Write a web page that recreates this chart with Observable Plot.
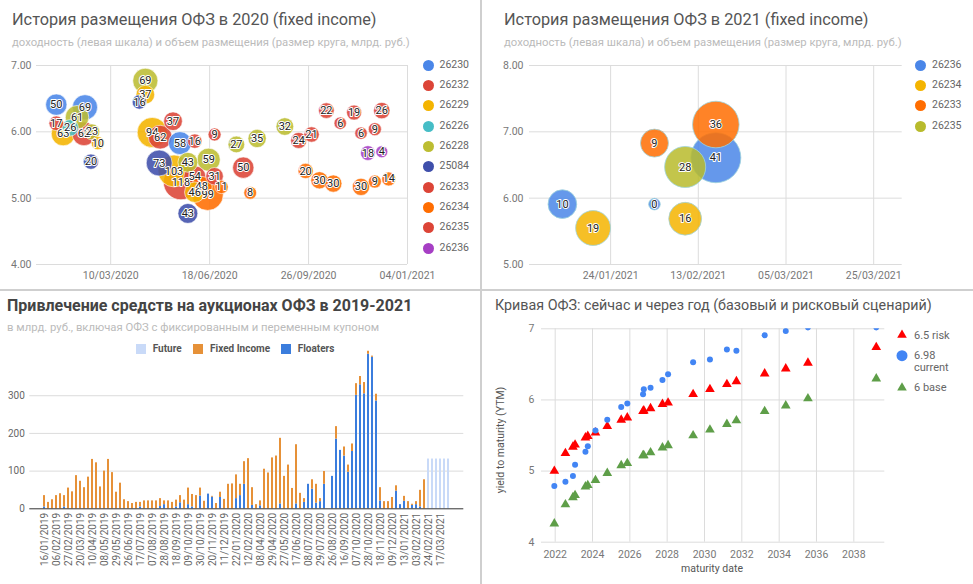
<!DOCTYPE html>
<html><head><meta charset="utf-8">
<script src="https://cdn.jsdelivr.net/npm/d3@7"></script>
<script src="https://cdn.jsdelivr.net/npm/@observablehq/plot@0.6"></script>
<style>
body{margin:0;background:#fff;font-family:Roboto,sans-serif;}
#root{position:relative;width:973px;height:584px;overflow:hidden;background:#fff;}
.abs{position:absolute;white-space:nowrap;line-height:1;}
.title{font-size:16.3px;color:#555;}
.sub{font-size:11.3px;color:#bbb;}
.leg{font-size:10.5px;color:#666;}
svg{overflow:visible;}
</style></head><body><div id="root"></div>
<script>
// ---------- Chart 1: 2020 placements ----------
const legend2020 = ["26230","26232","26229","26226","26228","25084","26233","26234","26235","26236"];
const colors2020 = ["#4a86e8","#dc4437","#f4b400","#46bdc6","#bcbd32","#3f4fab","#dc4437","#ff6d01","#dc4437","#a63fc4"];
const series2020 = [
  "26230","26230","26230",
  "26232","26232",
  "26229","26229","26229","26229","26229","26229",
  "26226",
  "26228","26228","26228","26228","26228","26228","26228","26228",
  "25084","25084","25084","25084",
  "26233","26233","26233","26233","26233","26233","26233","26233",
  "26234","26234","26234","26234","26234","26234","26234","26234","26234","26234",
  "26235","26235","26235","26235","26235","26235","26235","26235",
  "26236","26236"];
const dates2020 = [
  "2020-01-15","2020-02-13","2020-05-19",
  "2020-01-15","2020-02-12",
  "2020-01-22","2020-02-26","2020-04-14","2020-04-21","2020-05-13","2020-06-03",
  "2020-01-29",
  "2020-02-05","2020-02-20","2020-04-14","2020-05-27","2020-06-17","2020-07-15","2020-08-05","2020-09-02",
  "2020-02-19","2020-04-08","2020-04-28","2020-05-27",
  "2020-04-29","2020-05-12","2020-05-20","2020-06-03","2020-06-03","2020-06-23","2020-06-23","2020-07-22",
  "2020-06-10","2020-06-16","2020-06-30","2020-07-29","2020-09-23","2020-10-07","2020-10-21","2020-11-18","2020-12-02","2020-12-16",
  "2020-09-16","2020-09-29","2020-10-14","2020-10-28","2020-11-11","2020-11-18","2020-12-02","2020-12-09",
  "2020-11-25","2020-12-09"];
const yields2020 = [
  6.41,6.37,5.83,
  6.13,5.97,
  5.97,5.83,6.56,5.99,5.41,5.09,
  6.06,
  6.22,6.00,6.77,5.54,5.58,5.81,5.90,6.08,
  5.55,6.45,5.53,4.77,
  5.92,6.16,5.24,5.86,5.32,5.96,5.33,5.46,
  5.17,5.05,5.17,5.08,5.41,5.27,5.22,5.17,5.25,5.29,
  5.87,5.96,6.32,6.13,6.29,5.98,6.04,6.32,
  5.68,5.70];
const volumes2020 = [
  50,69,58,
  17,62,
  63,10,37,94,103,46,
  26,
  61,23,69,43,59,27,35,32,
  20,16,73,43,
  62,37,118,16,54,9,31,50,
  48,99,11,8,20,30,30,30,9,14,
  24,21,22,6,19,6,9,26,
  18,4];
const xTicks2020 = ["2020-03-10","2020-06-18","2020-09-26","2021-01-04"];
const yTicks2020 = [4,5,6,7];

// ---------- Chart 2: 2021 placements ----------
const legend2021 = ["26236","26234","26233","26235"];
const colors2021 = ["#4a86e8","#f4b400","#ff6d01","#b8bb2c"];
const series2021 = ["26236","26236","26236","26234","26234","26233","26233","26235"];
const dates2021 = ["2021-01-13","2021-02-17","2021-02-03","2021-01-20","2021-02-10","2021-02-03","2021-02-17","2021-02-10"];
const yields2021 = [5.91,6.61,5.91,5.55,5.69,6.83,7.11,6.47];
const volumes2021 = [10,41,0.3,19,16,9,36,28];
const xTicks2021 = ["2021-01-24","2021-02-13","2021-03-05","2021-03-25"];
const yTicks2021 = [5,6,7,8];

// ---------- Chart 3: auctions 2019-2021 ----------
const tickLabels = ["16/01/2019","06/02/2019","27/02/2019","20/03/2019","10/04/2019","08/05/2019","29/05/2019","26/06/2019","17/07/2019","07/08/2019","28/08/2019","18/09/2019","09/10/2019","30/10/2019","20/11/2019","11/12/2019","22/01/2020","12/02/2020","08/04/2020","29/04/2020","27/05/2020","17/06/2020","08/07/2020","29/07/2020","26/08/2020","16/09/2020","07/10/2020","28/10/2020","18/11/2020","09/12/2020","13/01/2021","03/02/2021","24/02/2021","17/03/2021"];
const floaters = [5,0,0,0,0,5,0,0,0,0,0,0,0,0,0,0,0,0,0,0,0,0,0,0,5,0,0,0,0,6,11,0,0,5,16,0,11,5,0,34,0,39,31,0,30,0,0,0,27,35,65,0,9,0,8,0,0,0,0,13,0,0,0,13,0,17,65,52,15,19,65,0,86,185,155,140,97,152,301,329,305,410,402,286,21,0,0,0,47,11,20,0,9,11,5,0,0,0,0,0,0,0];
const fixedIncome = [30,17,24,35,40,30,55,45,88,73,56,84,131,122,58,100,131,96,44,68,24,19,14,17,12,21,21,21,21,21,10,21,17,18,19,23,44,33,35,21,20,0,2,14,14,25,65,66,63,30,60,133,47,11,13,105,95,135,140,174,86,116,54,157,41,10,0,25,50,8,34,0,0,33,0,24,19,20,31,22,30,8,3,18,35,19,19,30,14,0,13,19,3,8,44,77,0,0,0,0,0,0];
const future = [0,0,0,0,0,0,0,0,0,0,0,0,0,0,0,0,0,0,0,0,0,0,0,0,0,0,0,0,0,0,0,0,0,0,0,0,0,0,0,0,0,0,0,0,0,0,0,0,0,0,0,0,0,0,0,0,0,0,0,0,0,0,0,0,0,0,0,0,0,0,0,0,0,0,0,0,0,0,0,0,0,0,0,0,0,0,0,0,0,0,0,0,0,0,0,0,132,132,132,132,132,132];
const barSeries = ["Future","Fixed Income","Floaters"];
const barColors = ["#c9daf8","#e69138","#3b7ddd"];
const barYTicks = [0,100,200,300];

// ---------- Chart 4: OFZ curve ----------
const maturities = ["2021-12-15","2022-07-20","2022-12-14","2023-01-25","2023-08-16","2023-10-01","2024-02-28","2024-10-16","2025-07-16","2025-11-12","2026-09-16","2026-10-01","2027-02-10","2027-10-01","2028-01-19","2029-05-23","2030-04-17","2031-03-15","2031-09-17","2033-03-23","2034-05-10","2035-07-18","2039-03-16"];
const ytmCurrent = [4.79,4.85,4.93,5.09,5.27,5.35,5.57,5.72,5.90,5.95,6.08,6.15,6.17,6.28,6.36,6.53,6.57,6.71,6.69,6.91,6.97,7.02,7.02];
const ytmRisk = [5.00,5.25,5.34,5.37,5.47,5.49,5.54,5.63,5.72,5.75,5.84,5.85,5.88,5.94,5.96,6.08,6.15,6.22,6.26,6.37,6.44,6.52,6.74];
const ytmBase = [4.26,4.53,4.63,4.66,4.78,4.80,4.87,4.97,5.08,5.11,5.22,5.22,5.26,5.33,5.36,5.50,5.58,5.66,5.71,5.84,5.92,6.02,6.30];
const curveYearTicks = [2022,2024,2026,2028,2030,2032,2034,2036,2038];
const curveYTicks = [4,5,6,7];

// ================= rendering =================
const root = document.getElementById("root");
function addDiv(cls, text, left, top, extra) {
  const d = document.createElement("div");
  d.className = "abs " + cls;
  d.textContent = text;
  d.style.left = left + "px"; d.style.top = top + "px";
  if (extra) Object.assign(d.style, extra);
  root.appendChild(d);
  return d;
}
function place(svg, left, top) {
  const wrap = document.createElement("div");
  wrap.className = "abs";
  wrap.style.left = left + "px"; wrap.style.top = top + "px";
  wrap.appendChild(svg);
  root.appendChild(wrap);
}
const baseStyle = {fontFamily: "Roboto", fontSize: "10.5px", color: "#777", background: "transparent", overflow: "visible"};
const dmy = d3.utcFormat("%d/%m/%Y");
const intFmt = d3.format(".0f");

// separators
const vsep = document.createElement("div");
Object.assign(vsep.style, {position:"absolute", left:"480px", top:"0px", width:"2px", height:"584px", background:"#cfcfcf"});
root.appendChild(vsep);
const hsep = document.createElement("div");
Object.assign(hsep.style, {position:"absolute", left:"0px", top:"289px", width:"973px", height:"2px", background:"#cfcfcf"});
root.appendChild(hsep);

// ---- Chart 1 ----
const b2020 = series2020.map((s, i) => ({series: s, date: new Date(dates2020[i]), yld: yields2020[i], vol: volumes2020[i]}))
  .sort((a, b) => b.vol - a.vol);
const p1 = Plot.plot({
  width: 480, height: 290,
  marginLeft: 36, marginRight: 73, marginTop: 65, marginBottom: 26,
  style: baseStyle,
  x: {type: "utc", domain: [new Date("2019-12-26"), new Date("2021-01-04")], ticks: xTicks2020.map(d => new Date(d)), tickFormat: dmy, tickSize: 0, tickPadding: 7, label: null},
  y: {domain: [4, 7], ticks: yTicks2020, tickFormat: d3.format(".2f"), tickSize: 0, tickPadding: 5, label: null},
  r: {type: "linear", domain: [4, 118], range: [6, 17.5]},
  color: {domain: legend2020, range: colors2020},
  marks: [
    Plot.ruleY(yTicks2020, {stroke: "#dcdcdc"}),
    Plot.ruleX(xTicks2020.map(d => new Date(d)), {stroke: "#dcdcdc"}),
    Plot.dot(b2020, {x: "date", y: "yld", r: "vol", fill: "series", fillOpacity: 0.88, stroke: "#fff", strokeOpacity: 0.6, strokeWidth: 1}),
    Plot.text(b2020, {x: "date", y: "yld", text: d => intFmt(d.vol), fill: "#222", stroke: "#fff", strokeWidth: 2, fontSize: 11})
  ]
});
place(p1, 0, 0);
addDiv("title", "История размещения ОФЗ в 2020 (fixed income)", 12, 12);
addDiv("sub", "доходность (левая шкала) и объем размещения (размер круга, млрд. руб.)", 12, 37);
legend2020.forEach((name, i) => {
  const y = 65 + i * 20.35;
  const c = document.createElement("div");
  Object.assign(c.style, {position:"absolute", left:(428.3-5.5)+"px", top:(y-5.5)+"px", width:"11px", height:"11px", borderRadius:"50%", background: colors2020[i]});
  root.appendChild(c);
  addDiv("leg", name, 439.5, y - 5.5);
});

// ---- Chart 2 ----
const b2021 = series2021.map((s, i) => ({series: s, date: new Date(dates2021[i]), yld: yields2021[i], vol: volumes2021[i]}))
  .sort((a, b) => b.vol - a.vol);
const p2 = Plot.plot({
  width: 491, height: 290,
  marginLeft: 47, marginRight: 71.3, marginTop: 65, marginBottom: 26,
  style: baseStyle,
  x: {type: "utc", domain: [new Date("2021-01-05T12:00Z"), new Date("2021-03-31T12:00Z")], ticks: xTicks2021.map(d => new Date(d)), tickFormat: dmy, tickSize: 0, tickPadding: 7, label: null},
  y: {domain: [5, 8], ticks: yTicks2021, tickFormat: d3.format(".2f"), tickSize: 0, tickPadding: 6, label: null},
  r: {type: "linear", domain: [0, 9, 41], range: [5.5, 14, 25]},
  color: {domain: legend2021, range: colors2021},
  marks: [
    Plot.ruleY(yTicks2021, {stroke: "#dcdcdc"}),
    Plot.ruleX(xTicks2021.map(d => new Date(d)), {stroke: "#dcdcdc"}),
    Plot.dot(b2021, {x: "date", y: "yld", r: "vol", fill: "series", fillOpacity: 0.85, stroke: "#9fd3dc", strokeOpacity: 0.8, strokeWidth: 1}),
    Plot.text(b2021, {x: "date", y: "yld", text: d => intFmt(d.vol), fill: "#222", stroke: "#fff", strokeWidth: 2, fontSize: 11})
  ]
});
place(p2, 482, 0);
addDiv("title", "История размещения ОФЗ в 2021 (fixed income)", 504, 12);
addDiv("sub", "доходность (левая шкала) и объем размещения (размер круга, млрд. руб.)", 504, 37);
legend2021.forEach((name, i) => {
  const y = 65 + i * 20.4;
  const c = document.createElement("div");
  Object.assign(c.style, {position:"absolute", left:(920.7-5.5)+"px", top:(y-5.5)+"px", width:"11px", height:"11px", borderRadius:"50%", background: colors2021[i]});
  root.appendChild(c);
  addDiv("leg", name, 932, y - 5.5);
});

// ---- Chart 3 ----
const parseDMY = d3.utcParse("%d/%m/%Y");
const barDates = tickLabels.flatMap(l => { const d = parseDMY(l); return [0, 7, 14].map(k => dmy(d3.utcDay.offset(d, k))); });
const barRows = [];
barDates.forEach((d, i) => {
  barRows.push({date: d, series: "Floaters", value: floaters[i]});
  barRows.push({date: d, series: "Fixed Income", value: fixedIncome[i]});
  barRows.push({date: d, series: "Future", value: future[i]});
});
const labelSet = new Set(tickLabels);
const p3 = Plot.plot({
  width: 481, height: 293,
  marginLeft: 29.3, marginRight: 17.7, marginTop: 59, marginBottom: 75.7,
  style: {...baseStyle, fontSize: "10px", color: "#666"},
  x: {type: "band", domain: barDates, paddingInner: 0.4, paddingOuter: 0.265, tickFormat: d => labelSet.has(d) ? d : "", tickRotate: -90, tickSize: 0, tickPadding: 4, label: null},
  y: {domain: [0, 420], ticks: barYTicks, tickSize: 0, tickPadding: 5, label: null},
  color: {domain: barSeries, range: barColors},
  marks: [
    Plot.ruleY(barYTicks.slice(1), {stroke: "#dcdcdc"}),
    Plot.barY(barRows, {x: "date", y: "value", fill: "series", order: ["Floaters", "Fixed Income", "Future"]}),
    Plot.ruleY([0], {stroke: "#333"})
  ]
});
place(p3, 0, 291);
addDiv("title", "Привлечение средств на аукционах ОФЗ в 2019-2021", 7, 298, {fontWeight: "bold", color: "#444", fontSize: "16px"});
addDiv("sub", "в млрд. руб., включая ОФЗ с фиксированным и переменным купоном", 7, 322);
const barLegPos = [[136, 152.7], [193, 210], [281, 297.7]];
barSeries.forEach((name, i) => {
  const s = document.createElement("div");
  Object.assign(s.style, {position:"absolute", left: barLegPos[i][0]+"px", top:"344px", width:"10px", height:"10px", background: barColors[i]});
  root.appendChild(s);
  addDiv("leg", name, barLegPos[i][1], 344, {fontWeight: "bold", color: "#555", fontSize: "10px"});
});

// ---- Chart 4 ----
const curveRows = maturities.map((m, i) => ({date: new Date(m), cur: ytmCurrent[i], risk: ytmRisk[i], base: ytmBase[i]}));
const yearDates = curveYearTicks.map(y => new Date(Date.UTC(y, 0, 1)));
const p4 = Plot.plot({
  width: 491, height: 293,
  marginLeft: 59, marginRight: 88.7, marginTop: 37.3, marginBottom: 42.3,
  style: baseStyle,
  x: {type: "utc", domain: [new Date("2021-04-08"), new Date("2039-08-30")], ticks: yearDates, tickFormat: d3.utcFormat("%Y"), tickSize: 0, tickPadding: 8, label: null},
  y: {domain: [4, 7], ticks: curveYTicks, tickFormat: d3.format("d"), tickSize: 0, tickPadding: 7, label: null},
  marks: [
    Plot.ruleY(curveYTicks, {stroke: "#dcdcdc"}),
    Plot.ruleX(yearDates, {stroke: "#dcdcdc"}),
    Plot.dot(curveRows, {x: "date", y: "base", symbol: "triangle", r: 3.6, fill: "#5e9e48", clip: true}),
    Plot.dot(curveRows, {x: "date", y: "risk", symbol: "triangle", r: 3.6, fill: "#ff0000", clip: true}),
    Plot.dot(curveRows, {x: "date", y: "cur", r: 3, fill: "#4285f4", clip: true})
  ]
});
place(p4, 482, 291);
addDiv("title", "Кривая ОФЗ: сейчас и через год (базовый и рисковый сценарий)", 495, 298, {fontSize: "14.3px"});
addDiv("leg", "maturity date", 712, 564, {transform: "translateX(-50%)", color: "#555", fontSize: "10.5px"});
addDiv("leg", "yield to maturity (YTM)", 501, 440, {transform: "translate(-50%,-50%) rotate(-90deg)", color: "#555", fontSize: "10.5px"});
// legend chart 4
const legSvg = d3.create("svg").attr("width", 12).attr("height", 60).style("position","absolute").style("left", "896px").style("top", "328px");
legSvg.append("path").attr("d", d3.symbol(d3.symbolTriangle, 40)()).attr("transform", "translate(6,7)").attr("fill", "#ff0000");
legSvg.append("circle").attr("cx", 6).attr("cy", 27.7).attr("r", 5.5).attr("fill", "#4285f4");
legSvg.append("path").attr("d", d3.symbol(d3.symbolTriangle, 40)()).attr("transform", "translate(6,59.7)").attr("fill", "#5e9e48");
root.appendChild(legSvg.node());
addDiv("leg", "6.5 risk", 914, 329.5, {fontSize: "11px"});
addDiv("leg", "6.98", 914, 350, {fontSize: "11px"});
addDiv("leg", "current", 914, 362, {fontSize: "11px"});
addDiv("leg", "6 base", 914, 382, {fontSize: "11px"});
</script>
</body></html>
